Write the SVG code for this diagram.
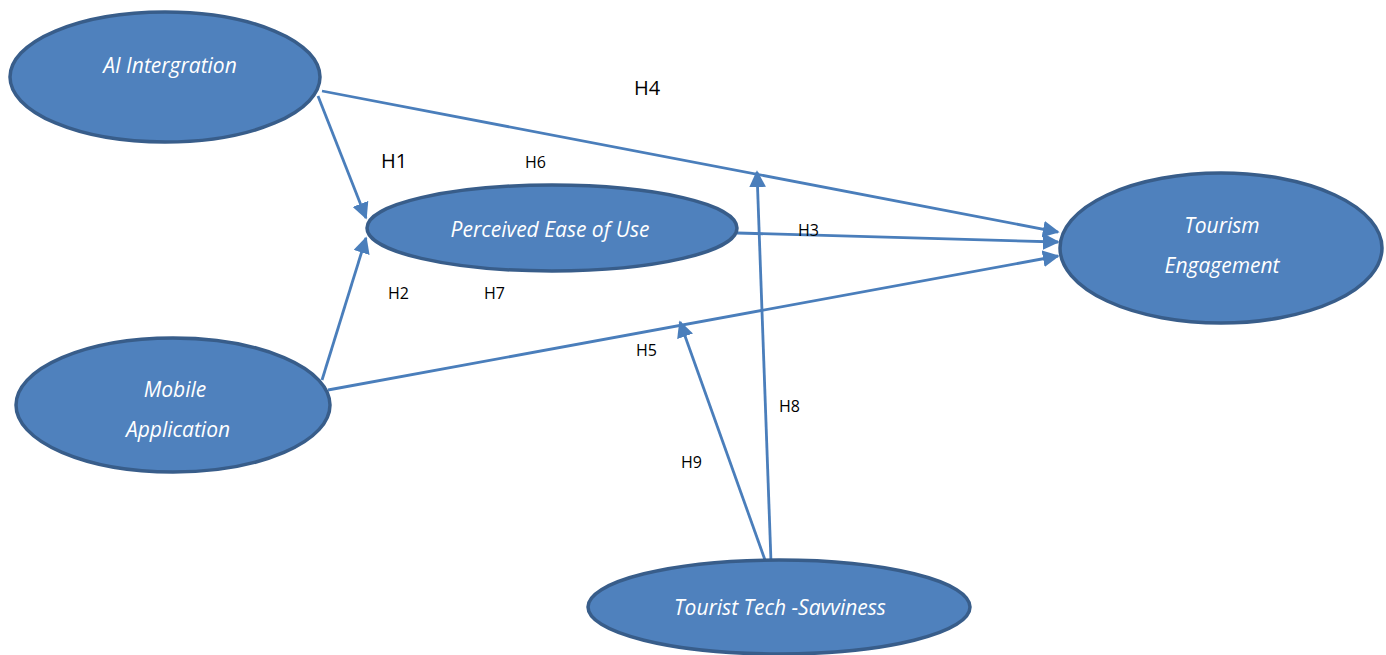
<svg xmlns="http://www.w3.org/2000/svg" width="1386" height="655" viewBox="0 0 1386 655">
  <style>
    .node ellipse { fill: #4F81BD; stroke: #385D8A; stroke-width: 3.5; }
    .node text { fill: #FFFFFF; font-family: "Open Sans", "Liberation Sans", sans-serif; font-style: italic; font-size: 21px; text-anchor: middle; }
    .edge { stroke: #4A7EBB; stroke-width: 2.8; fill: none; marker-end: url(#arrow); }
    .lbl { fill: #000000; font-family: "Open Sans", "Liberation Sans", sans-serif; font-size: 16px; }
    .lbl.big { font-size: 20px; }
  </style>
  <defs>
    <marker id="arrow" viewBox="0 0 10 10" refX="9" refY="5" markerWidth="6" markerHeight="6" markerUnits="strokeWidth" orient="auto">
      <path d="M0,0 L10,5 L0,10 z" fill="#4A7EBB"/>
    </marker>
  </defs>
  <rect width="1386" height="655" fill="#FFFFFF"/>

  <g id="connectors">
    <line class="edge" x1="318" y1="96" x2="366" y2="218"/>
    <line class="edge" x1="322" y1="91" x2="1058" y2="232"/>
    <line class="edge" x1="737" y1="233" x2="1058" y2="242"/>
    <line class="edge" x1="322" y1="380" x2="366" y2="238"/>
    <line class="edge" x1="328" y1="390" x2="1058" y2="256"/>
    <line class="edge" x1="771" y1="562" x2="757" y2="172"/>
    <line class="edge" x1="765" y1="560" x2="680" y2="322"/>
  </g>

  <g id="ai-integration" class="node">
    <ellipse cx="165" cy="77" rx="155" ry="65"/>
    <text x="170" y="73">AI Intergration</text>
  </g>

  <g id="perceived-ease" class="node">
    <ellipse cx="552" cy="228" rx="185" ry="43"/>
    <text x="550" y="237">Perceived Ease of Use</text>
  </g>

  <g id="tourism-engagement" class="node">
    <ellipse cx="1221" cy="248" rx="161" ry="75"/>
    <text x="1222" y="233">Tourism</text>
    <text x="1222" y="273">Engagement</text>
  </g>

  <g id="mobile-application" class="node">
    <ellipse cx="173" cy="405" rx="157" ry="67"/>
    <text x="175" y="397">Mobile</text>
    <text x="178" y="437">Application</text>
  </g>

  <g id="tourist-tech" class="node">
    <ellipse cx="779" cy="607" rx="191" ry="47"/>
    <text x="780" y="615">Tourist Tech -Savviness</text>
  </g>

  <g id="labels">
    <text class="lbl big" x="634" y="95">H4</text>
    <text class="lbl big" x="381" y="168">H1</text>
    <text class="lbl" x="525" y="168">H6</text>
    <text class="lbl" x="798" y="236">H3</text>
    <text class="lbl" x="388" y="299">H2</text>
    <text class="lbl" x="484" y="299">H7</text>
    <text class="lbl" x="636" y="356">H5</text>
    <text class="lbl" x="779" y="412">H8</text>
    <text class="lbl" x="681" y="468">H9</text>
  </g>
</svg>
